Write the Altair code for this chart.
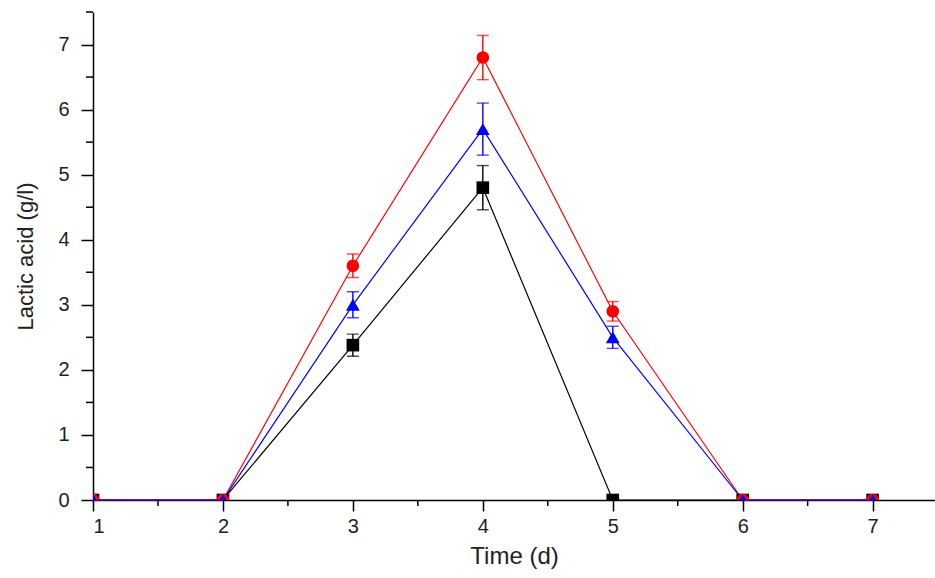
import altair as alt
import pandas as pd

# ---- data ----
days = [1, 2, 3, 4, 5, 6, 7]
black_vals = [0, 0, 2.38, 4.8, 0, 0, 0]
black_err = [0, 0, 0.17, 0.34, 0, 0, 0]
red_vals = [0, 0, 3.6, 6.8, 2.9, 0, 0]
red_err = [0, 0, 0.18, 0.34, 0.15, 0, 0]
blue_vals = [0, 0, 3.0, 5.7, 2.5, 0, 0]
blue_err = [0, 0, 0.2, 0.4, 0.17, 0, 0]

x_major = [1, 2, 3, 4, 5, 6, 7]
x_minor = [1.5, 2.5, 3.5, 4.5, 5.5, 6.5]
y_major = [0, 1, 2, 3, 4, 5, 6, 7]
y_minor = [0.5, 1.5, 2.5, 3.5, 4.5, 5.5, 6.5, 7.5]

series = [
    ("Black", black_vals, black_err, "#000000", "square", 160),
    ("Red", red_vals, red_err, "#ff0000", "circle", 160),
    ("Blue", blue_vals, blue_err, "#0000ff", "triangle-up", 190),
]

W, H = 842, 488
FONT = "Liberation Sans"
xs = alt.Scale(domain=[1, 7.48], nice=False, zero=False)
ys = alt.Scale(domain=[0, 7.5], nice=False)

xaxis = alt.Axis(
    values=x_major, title="Time (d)", tickSize=11, tickWidth=1.5, tickColor="black",
    domainColor="black", domainWidth=1.5, labelFontSize=20, labelColor="#222222",
    labelFont=FONT, labelPadding=5, titleFont=FONT, titleFontSize=24,
    titleFontWeight="normal", titleColor="#222222", titlePadding=8, grid=False,
    format="d")
yaxis = alt.Axis(
    values=y_major, title="Lactic acid (g/l)", tickSize=12, tickWidth=1.5, tickColor="black",
    domainColor="black", domainWidth=1.5, labelFontSize=20, labelColor="#222222",
    labelFont=FONT, labelPadding=12, titleFont=FONT, titleFontSize=22,
    titleFontWeight="normal", titleColor="#222222", titlePadding=20, grid=False,
    format="d")


def X(field):
    return alt.X(field, scale=xs, axis=xaxis)


def Y(field):
    return alt.Y(field, scale=ys, axis=yaxis)


layers = []

# minor ticks
xminor_df = pd.DataFrame({"x": x_minor})
layers.append(alt.Chart(xminor_df).mark_rule(color="black", strokeWidth=1.5).encode(
    x=X("x:Q"), y=alt.value(H), y2=alt.value(H + 6),
))
yminor_df = pd.DataFrame({"y": y_minor})
layers.append(alt.Chart(yminor_df).mark_rule(color="black", strokeWidth=1.5).encode(
    y=Y("y:Q"), x=alt.value(0), x2=alt.value(-7),
))

# lines
for name, vals, errs, color, shape, size in series:
    df = pd.DataFrame({"day": days, "val": vals})
    layers.append(alt.Chart(df).mark_line(color=color, strokeWidth=1.2).encode(
        x=X("day:Q"), y=Y("val:Q"),
    ))

# error bars
for name, vals, errs, color, shape, size in series:
    df = pd.DataFrame({"day": days, "val": vals, "err": errs})
    df = df[df["err"] > 0].copy()
    df["lo"] = df["val"] - df["err"]
    df["hi"] = df["val"] + df["err"]
    layers.append(alt.Chart(df).mark_rule(color=color, strokeWidth=1.4).encode(
        x=X("day:Q"), y=Y("lo:Q"), y2="hi:Q",
    ))
    for col in ["lo", "hi"]:
        layers.append(alt.Chart(df).mark_tick(color=color, thickness=1.4, size=12,
                                              orient="horizontal").encode(
            x=X("day:Q"), y=Y(f"{col}:Q"),
        ))

# points
for name, vals, errs, color, shape, size in series:
    df = pd.DataFrame({"day": days, "val": vals})
    layers.append(alt.Chart(df).mark_point(shape=shape, filled=True, opacity=1,
                                           color=color, size=size, clip=True).encode(
        x=X("day:Q"), y=Y("val:Q"),
    ))

chart = alt.layer(*layers).properties(
    width=W, height=H,
    autosize=alt.AutoSizeParams(type="none"),
    padding={"left": 93, "top": 12, "right": 0, "bottom": 78},
    background="white",
).configure_view(stroke=None)

chart.save("out.html", embed_options={"renderer": "svg", "actions": False})
